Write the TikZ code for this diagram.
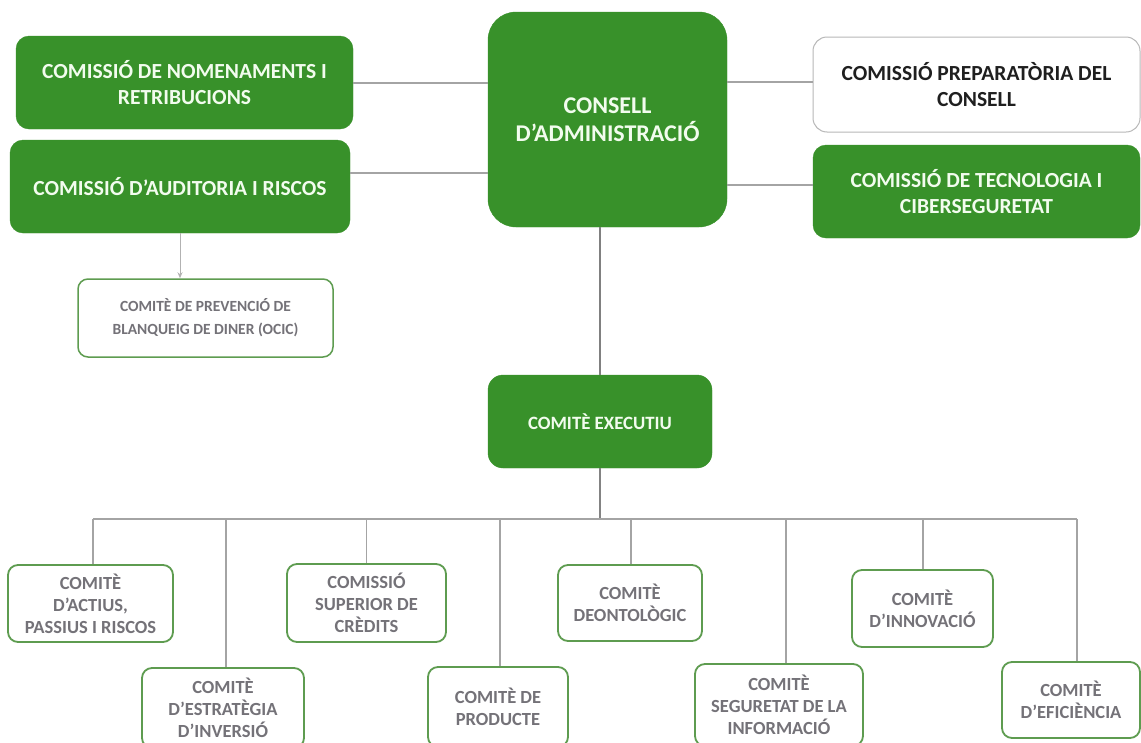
\documentclass[tikz,border=0pt]{standalone}
\usepackage{fontspec}
\setmainfont{Carlito}
\usetikzlibrary{arrows.meta}
\definecolor{gfill}{HTML}{38912A}
\definecolor{gtext}{HTML}{F2FCEE}
\definecolor{gline}{HTML}{5E9C50}
\definecolor{ctext}{HTML}{747278}
\definecolor{conn}{HTML}{A4A4A4}
\definecolor{conndark}{HTML}{808080}
\begin{document}
\begin{tikzpicture}[x=1pt,y=-1pt,
  wh/.style 2 args={minimum width=#1pt, minimum height=#2pt},
  greenbox/.style={draw=gfill, fill=gfill, rounded corners=13pt, text=gtext,
    font=\bfseries\fontsize{21.5}{26}\selectfont, align=center, inner sep=0pt},
  whitebox/.style={draw=gline, line width=1.8pt, fill=white, rounded corners=10pt,
    text=ctext, font=\bfseries\fontsize{18.5}{22}\selectfont, align=center, inner sep=0pt},
  greybox/.style={draw=black!28, line width=1pt, fill=white, rounded corners=14pt,
    text=black!88, font=\bfseries\fontsize{21.5}{26}\selectfont, align=center, inner sep=0pt},
  link/.style={draw=conn, line width=1.2pt},
  darklink/.style={draw=conndark, line width=1.4pt}]
\useasboundingbox (0,0) rectangle (1141,742);
\fill[white] (0,0) rectangle (1141,742);

% top level
\node[greenbox, wh={239}{215}, rounded corners=28pt, font=\bfseries\fontsize{24}{28}\selectfont] (cons) at (607.5,119.5) {CONSELL\\D'ADMINISTRACIÓ};
\node[greenbox, wh={337}{93}] (nom) at (184.5,82.5) {COMISSIÓ DE NOMENAMENTS I\\RETRIBUCIONS};
\node[greenbox, wh={340}{93}] (aud) at (180,186.5) {COMISSIÓ D'AUDITORIA I RISCOS};
\node[greybox, wh={327}{95}] (prep) at (976.5,84.5) {COMISSIÓ PREPARATÒRIA DEL\\CONSELL};
\node[greenbox, wh={327}{93}] (tec) at (976.5,191.5) {COMISSIÓ DE TECNOLOGIA I\\CIBERSEGURETAT};
\node[whitebox, wh={255}{78}, line width=1.5pt, font=\bfseries\fontsize{15.5}{23}\selectfont] (blq) at (205.5,318) {COMITÈ DE PREVENCIÓ DE\\BLANQUEIG DE DINER (OCIC)};
\node[greenbox, wh={224}{93}, rounded corners=15pt, font=\bfseries\fontsize{18.8}{22}\selectfont] (exe) at (600,421.5) {COMITÈ EXECUTIU};

% committees
\node[whitebox, wh={165}{77}] (act) at (90.5,603.5) {COMITÈ\\D'ACTIUS,\\PASSIUS I RISCOS};
\node[whitebox, wh={162}{80}] (est) at (223,708) {COMITÈ\\D'ESTRATÈGIA\\D'INVERSIÓ};
\node[whitebox, wh={159}{78}] (sup) at (366.5,603) {COMISSIÓ\\SUPERIOR DE\\CRÈDITS};
\node[whitebox, wh={140}{80}] (prod) at (498,707) {COMITÈ DE\\PRODUCTE};
\node[whitebox, wh={144}{76}] (deo) at (630,603) {COMITÈ\\DEONTOLÒGIC};
\node[whitebox, wh={168}{82}] (seg) at (779,705) {COMITÈ\\SEGURETAT DE LA\\INFORMACIÓ};
\node[whitebox, wh={141}{77}] (inn) at (922.5,608.5) {COMITÈ\\D'INNOVACIÓ};
\node[whitebox, wh={138}{76}] (efi) at (1071,700) {COMITÈ\\D'EFICIÈNCIA};

% connectors
\draw[link] ([yshift=-0.5pt]nom.east) -- ([yshift=-0.5pt]nom.east -| cons.west);
\draw[link] ([yshift=13.5pt]aud.east) -- ([yshift=13.5pt]aud.east -| cons.west);
\draw[link] ([yshift=2.5pt]prep.west) -- ([yshift=2.5pt]prep.west -| cons.east);
\draw[link] ([yshift=6.5pt]tec.west) -- ([yshift=6.5pt]tec.west -| cons.east);
\draw[darklink] (exe.north) -- (exe.north |- cons.south);
\draw[draw=black!30, line width=1pt, -{Stealth[length=6pt,width=5pt]}] (aud.south) -- (aud.south |- blq.north);

\coordinate (bus) at (600,519);
\draw[darklink, draw=conn!80!black] (exe.south) -- (exe.south |- bus);
\draw[link] ([xshift=2.5pt]act.north |- bus) -- ([xshift=6pt]efi.north |- bus);
\draw[link] ([xshift=2.5pt]act.north) -- ([xshift=2.5pt]act.north |- bus);
\draw[link] ([xshift=3pt]est.north) -- ([xshift=3pt]est.north |- bus);
\draw[link] (sup.north) -- (sup.north |- bus);
\draw[link] ([xshift=2pt]prod.north) -- ([xshift=2pt]prod.north |- bus);
\draw[link] ([xshift=1pt]deo.north) -- ([xshift=1pt]deo.north |- bus);
\draw[link] ([xshift=7pt]seg.north) -- ([xshift=7pt]seg.north |- bus);
\draw[link] ([xshift=0.5pt]inn.north) -- ([xshift=0.5pt]inn.north |- bus);
\draw[link] ([xshift=6pt]efi.north) -- ([xshift=6pt]efi.north |- bus);
\end{tikzpicture}
\end{document}
